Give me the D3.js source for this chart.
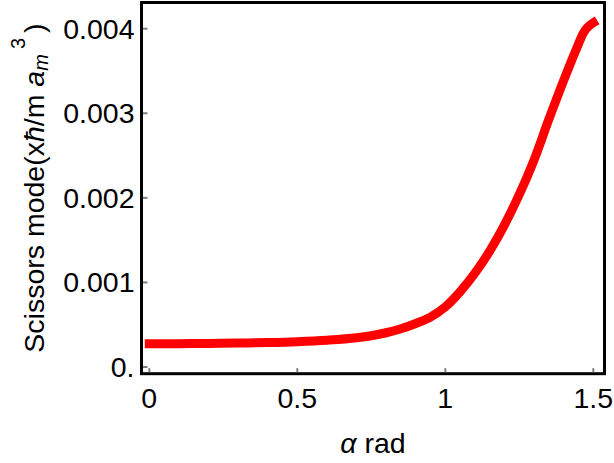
<!DOCTYPE html>
<html>
<head>
<meta charset="utf-8">
<script src="https://cdn.jsdelivr.net/npm/d3@7"></script>
<style>
  html, body { margin: 0; padding: 0; background: #fff; }
  svg { display: block; }
  text { font-family: "Liberation Sans", Arial, Helvetica, sans-serif; fill: #000; }
</style>
</head>
<body>
<svg id="chart" width="614" height="463"></svg>
<script>
// Scissors-mode energy versus tilt angle alpha (radians)
const alpha = [0, 0.1, 0.2, 0.3, 0.4, 0.5, 0.6, 0.7, 0.75, 0.8, 0.85, 0.9, 0.95, 1.0,
               1.05, 1.1, 1.15, 1.2, 1.25, 1.3, 1.35, 1.4, 1.45, 1.465, 1.5];
const scissors = [0.000274, 0.000276, 0.000279, 0.000283, 0.000289, 0.000299,
                  0.000316, 0.000345, 0.00037, 0.000405, 0.000452, 0.000515,
                  0.00059, 0.00071, 0.00089, 0.00111, 0.00137, 0.00168, 0.00204,
                  0.00245, 0.00293, 0.00339, 0.00382, 0.00394, 0.00407];

const xTicks = [0, 0.5, 1, 1.5];
const xTickLabels = ["0", "0.5", "1", "1.5"];
const yTicks = [0, 0.001, 0.002, 0.003, 0.004];
const yTickLabels = ["0.", "0.001", "0.002", "0.003", "0.004"];

const svg = d3.select("#chart");
const frame = { left: 141.5, right: 604.5, top: 2.5, bottom: 373.7 };

const x = d3.scaleLinear().domain([0, 1.5]).range([149.3, 593.3]);
const y = d3.scaleLinear().domain([0, 0.004]).range([367, 28.7]);

// frame
svg.append("rect")
  .attr("x", frame.left).attr("y", frame.top)
  .attr("width", frame.right - frame.left)
  .attr("height", frame.bottom - frame.top)
  .attr("fill", "none").attr("stroke", "#000").attr("stroke-width", 3);

// inner tick marks
const tickColor = "#7f7f7f";
svg.append("g").selectAll("line").data(xTicks).join("line")
  .attr("x1", d => x(d)).attr("x2", d => x(d))
  .attr("y1", frame.bottom - 1.5).attr("y2", frame.bottom - 5.5)
  .attr("stroke", tickColor).attr("stroke-width", 2);
svg.append("g").selectAll("line").data(yTicks).join("line")
  .attr("x1", frame.left + 1.5).attr("x2", frame.left + 6)
  .attr("y1", d => y(d)).attr("y2", d => y(d))
  .attr("stroke", tickColor).attr("stroke-width", 2);

// tick labels
const fs = 28.5;
svg.append("g").selectAll("text").data(xTicks).join("text")
  .attr("x", d => x(d)).attr("y", 407.5)
  .attr("text-anchor", "middle").attr("font-size", fs)
  .text((d, i) => xTickLabels[i]);
svg.append("g").selectAll("text").data(yTicks).join("text")
  .attr("x", 134.5).attr("y", d => y(d) + 10)
  .attr("text-anchor", "end").attr("font-size", fs)
  .text((d, i) => yTickLabels[i]);

// curve
const line = d3.line()
  .x((d, i) => x(alpha[i]))
  .y(d => y(d))
  .curve(d3.curveMonotoneX);
svg.append("path")
  .datum(scissors)
  .attr("d", line)
  .attr("fill", "none").attr("stroke", "#ff0000")
  .attr("stroke-width", 9).attr("stroke-linecap", "square")
  .attr("stroke-linejoin", "round");

// x-axis label
const xl = svg.append("text")
  .attr("x", (frame.left + frame.right) / 2).attr("y", 453)
  .attr("text-anchor", "middle").attr("font-size", fs);
xl.append("tspan").attr("font-style", "italic").text("α");
xl.append("tspan").text(" rad");

// y-axis label
const yl = svg.append("text")
  .attr("transform", `translate(44,${(frame.top + frame.bottom) / 2}) rotate(-90)`)
  .attr("text-anchor", "middle").attr("font-size", fs);
yl.append("tspan").text("Scissors mode(x");
yl.append("tspan").attr("font-style", "italic").text("ħ");
yl.append("tspan").text("/m ");
yl.append("tspan").attr("font-style", "italic").text("a");
yl.append("tspan").attr("font-style", "italic").attr("font-size", 20).attr("dy", 4).text("m");
yl.append("tspan").attr("font-size", 20).attr("dy", -23).attr("dx", 5).text("3");
yl.append("tspan").attr("dy", 19).attr("dx", 5).text(")");
</script>
</body>
</html>
